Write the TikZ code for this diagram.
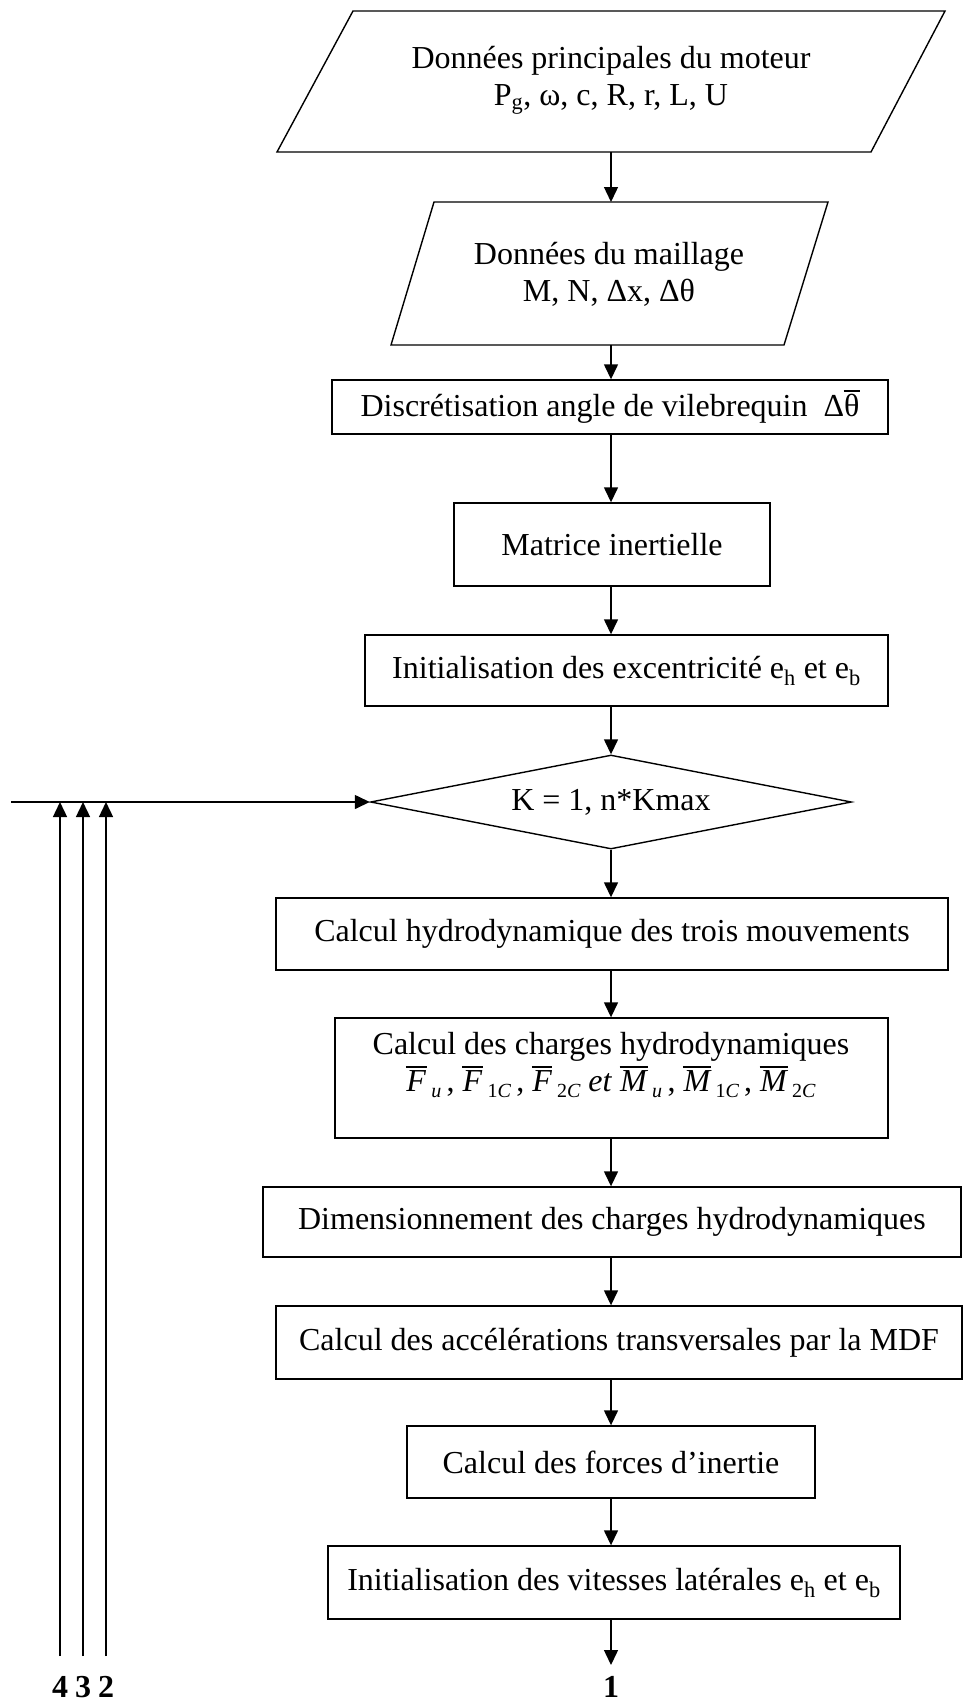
\documentclass[tikz,border=0pt]{standalone}
\usepackage{fontspec}
\setmainfont{Liberation Serif}
\usetikzlibrary{arrows.meta,shapes.geometric}

% symbol with a bar set clearly above it
\newsavebox{\barbox}
\newcommand{\barsym}[1]{\sbox{\barbox}{#1}%
  \vbox{\offinterlineskip
        \hbox to \wd\barbox{\hss\vrule height 1.3pt depth 0pt width 1.05\wd\barbox\hss}%
        \kern 3pt\box\barbox}}
\newcommand{\barit}[1]{\barsym{\itshape #1}}
\newcommand{\lowsub}[1]{\raisebox{-6pt}{\fontsize{20}{22}\selectfont #1}}

\begin{document}
\begin{tikzpicture}[x=1pt,y=-1pt,
  every node/.style={font=\fontsize{32}{37}\selectfont},
  box/.style={draw, line width=1.4pt, inner sep=0pt},
  arr/.style={line width=1.4pt, -{Triangle[length=15pt,width=14pt]}},
  lbl/.style={font=\fontsize{32}{37}\selectfont\bfseries, inner sep=0pt, anchor=north}]

\useasboundingbox (0,0) rectangle (963,1702);
\coordinate (spine) at (611,0);

% input parallelograms
\draw[line width=1.4pt] (353,11) -- (945,11) -- (871,152) -- (277,152) -- cycle;
\node[align=center] (in1) at (611,80) {Données principales du moteur\\P\textsubscript{g}, ω, c, R, r, L, U};
\coordinate (in1b) at (611,152);

\draw[line width=1.4pt] (434,202) -- (828,202) -- (784,345) -- (391,345) -- cycle;
\node[align=center] (in2) at (609,274) {Données du maillage\\M, N, Δx, Δθ};
\coordinate (in2t) at (611,202);
\coordinate (in2b) at (611,345);

% process boxes
\node[box, minimum width=556pt, minimum height=54pt] (b3) at (610,407)
  {Discrétisation angle de vilebrequin\ \ Δ\barsym{θ}};
\node[box, minimum width=316pt, minimum height=83pt] (b4) at (612,544.5) {Matrice inertielle};
\node[box, minimum width=523pt, minimum height=71pt] (b5) at (626.5,670.5)
  {Initialisation des excentricité e\textsubscript{h} et e\textsubscript{b}};
\node[draw, diamond, aspect=5.1, line width=1.4pt, inner sep=0pt,
      minimum width=481pt, minimum height=94pt] (loop) at (611,802) {K = 1, n*Kmax};
\node[box, minimum width=672pt, minimum height=72pt] (b6) at (612,934) {Calcul hydrodynamique des trois mouvements};
\node[box, minimum width=553pt, minimum height=120pt] (b7) at (611.5,1078) {};
\node[align=center] (b7t) at (611,1065)
  {Calcul des charges hydrodynamiques\\
   \barit{F}\,\lowsub{\itshape u}\,, \barit{F}\,\lowsub{1\itshape C}\,, \barit{F}\,\lowsub{2\itshape C}
   \textit{et} \barit{M}\,\lowsub{\itshape u}\,, \barit{M}\,\lowsub{1\itshape C}\,, \barit{M}\,\lowsub{2\itshape C}};
\node[box, minimum width=698pt, minimum height=70pt] (b8) at (612,1222) {Dimensionnement des charges hydrodynamiques};
\node[box, minimum width=686pt, minimum height=73pt] (b9) at (619,1342.5) {Calcul des accélérations transversales par la MDF};
\node[box, minimum width=408pt, minimum height=72pt] (b10) at (611,1462) {Calcul des forces d’inertie};
\node[box, minimum width=572pt, minimum height=73pt] (b11) at (614,1582.5)
  {Initialisation des vitesses latérales e\textsubscript{h} et e\textsubscript{b}};

% connector labels
\node[lbl] (one) at (611,1676) {1};
\node[lbl] (four) at (60,1676) {4};
\node[lbl] (three) at (83,1676) {3};
\node[lbl] (two) at (106,1676) {2};

% main flow
\draw[arr] (in1b) -- (in2t);
\draw[arr] (in2b) -- (b3.north -| spine);
\draw[arr] (b3.south -| spine) -- (b4.north -| spine);
\draw[arr] (b4.south -| spine) -- (b5.north -| spine);
\draw[arr] (b5.south -| spine) -- (loop.north);
\draw[arr] (loop.south) -- (b6.north -| spine);
\draw[arr] (b6.south -| spine) -- (b7.north -| spine);
\draw[arr] (b7.south -| spine) -- (b8.north -| spine);
\draw[arr] (b8.south -| spine) -- (b9.north -| spine);
\draw[arr] (b9.south -| spine) -- (b10.north -| spine);
\draw[arr] (b10.south -| spine) -- (b11.north -| spine);
\draw[arr] (b11.south -| spine) -- ([yshift=11pt]one.north);

% loop returns
\coordinate (ret) at (11,802);
\draw[arr] (ret) -- (loop.west);
\draw[arr] ([yshift=20pt]four.north) -- (four.north |- loop.west);
\draw[arr] ([yshift=20pt]three.north) -- (three.north |- loop.west);
\draw[arr] ([yshift=20pt]two.north) -- (two.north |- loop.west);
\end{tikzpicture}
\end{document}
